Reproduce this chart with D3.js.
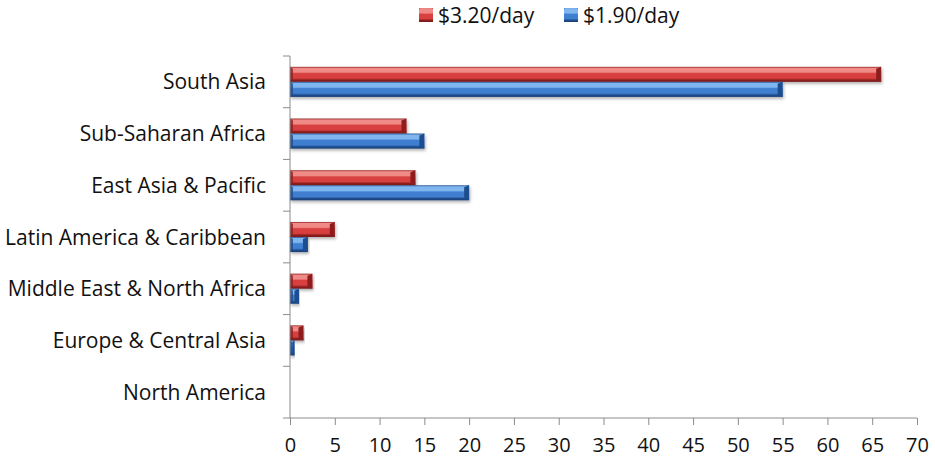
<!DOCTYPE html>
<html>
<head>
<meta charset="utf-8">
<script src="https://cdn.jsdelivr.net/npm/d3@7"></script>
<style>
  body { margin: 0; background: #fff; }
  svg { display: block; }
  text { font-family: "Open Sans", sans-serif; fill: #111; }
</style>
</head>
<body>
<svg id="chart"></svg>
<script>
var regions = ["South Asia", "Sub-Saharan Africa", "East Asia & Pacific",
  "Latin America & Caribbean", "Middle East & North Africa",
  "Europe & Central Asia", "North America"];
var seriesNames = ["$3.20/day", "$1.90/day"];
var povertyLine320 = [66, 13, 14, 5, 2.5, 1.5, 0];
var povertyLine190 = [55, 15, 20, 2, 1, 0.5, 0];
var xTicks = [0, 5, 10, 15, 20, 25, 30, 35, 40, 45, 50, 55, 60, 65, 70];

var seriesValues = [povertyLine320, povertyLine190];
var palette = {
  "$3.20/day": { light: "#f08a86", main: "#d8413f", dark: "#8e1f1f", edge: "#7a1a1a" },
  "$1.90/day": { light: "#7fb6f0", main: "#3f7fd0", dark: "#1f4d8e", edge: "#183e73" }
};

var width = 935, height = 461;
var margin = { top: 56, right: 18, bottom: 43, left: 290 };
var fontSize = "21px";

var svg = d3.select("#chart").attr("width", width).attr("height", height);
var defs = svg.append("defs");

// bevel-like gradients per series
seriesNames.forEach(function (s, i) {
  var c = palette[s];
  var g = defs.append("linearGradient")
    .attr("id", "grad" + i)
    .attr("x1", 0).attr("y1", 0).attr("x2", 0).attr("y2", 1);
  g.append("stop").attr("offset", "0%").attr("stop-color", c.dark);
  g.append("stop").attr("offset", "10%").attr("stop-color", c.light);
  g.append("stop").attr("offset", "35%").attr("stop-color", c.light);
  g.append("stop").attr("offset", "45%").attr("stop-color", c.main);
  g.append("stop").attr("offset", "75%").attr("stop-color", c.main);
  g.append("stop").attr("offset", "88%").attr("stop-color", c.dark);
  g.append("stop").attr("offset", "100%").attr("stop-color", c.edge);
});

var shadow = defs.append("filter").attr("id", "shadow")
  .attr("x", "-5%").attr("y", "-20%").attr("width", "115%").attr("height", "160%");
shadow.append("feDropShadow")
  .attr("dx", 1).attr("dy", 2).attr("stdDeviation", 1.5)
  .attr("flood-color", "#000").attr("flood-opacity", 0.3);

var x = d3.scaleLinear().domain([0, 70]).range([margin.left, width - margin.right]);
var y = d3.scaleBand().domain(regions).range([margin.top, height - margin.bottom]);
var ySub = d3.scaleBand().domain(seriesNames).range([0, y.bandwidth()])
  .paddingInner(0).paddingOuter(0.72);

// bars
var rows = svg.append("g").selectAll("g").data(regions).join("g")
  .attr("transform", function (d) { return "translate(0," + y(d) + ")"; });

seriesNames.forEach(function (s, si) {
  var c = palette[s];
  var bh = ySub.bandwidth();
  var bars = rows.filter(function (d, i) { return seriesValues[si][i] > 0; })
    .append("g")
    .attr("filter", "url(#shadow)");

  bars.append("rect")
    .attr("x", x(0))
    .attr("y", ySub(s))
    .attr("height", bh)
    .attr("width", function (d) { return x(seriesValues[si][regions.indexOf(d)]) - x(0); })
    .attr("fill", "url(#grad" + si + ")");

  // right end bevel
  bars.append("path")
    .attr("fill", c.dark)
    .attr("d", function (d) {
      var xe = x(seriesValues[si][regions.indexOf(d)]);
      var w = xe - x(0);
      var b = Math.min(5, w / 2);
      var y0 = ySub(s), y1 = y0 + bh;
      return "M" + xe + "," + y0 + "L" + xe + "," + y1 +
        "L" + (xe - b) + "," + (y1 - 2) + "L" + (xe - b) + "," + (y0 + 2) + "Z";
    });
  // left end bevel
  bars.append("path")
    .attr("fill", c.dark)
    .attr("opacity", 0.8)
    .attr("d", function (d) {
      var xs = x(0);
      var w = x(seriesValues[si][regions.indexOf(d)]) - xs;
      var b = Math.min(3, w / 2);
      var y0 = ySub(s), y1 = y0 + bh;
      return "M" + xs + "," + y0 + "L" + (xs + b) + "," + (y0 + 2) +
        "L" + (xs + b) + "," + (y1 - 2) + "L" + xs + "," + y1 + "Z";
    });
});

// y axis
var axisColor = "#8c8c8c";
var yAxis = svg.append("g");
yAxis.append("line")
  .attr("x1", x(0)).attr("x2", x(0))
  .attr("y1", y.range()[0]).attr("y2", y.range()[1])
  .attr("stroke", axisColor);
var boundaries = regions.map(function (d) { return y(d); }).concat([y.range()[1]]);
yAxis.selectAll(".btick").data(boundaries).join("line")
  .attr("x1", x(0) - 7).attr("x2", x(0))
  .attr("y1", function (d) { return d; }).attr("y2", function (d) { return d; })
  .attr("stroke", axisColor);
yAxis.selectAll(".lbl").data(regions).join("text")
  .attr("x", x(0) - 24)
  .attr("y", function (d) { return y(d) + y.bandwidth() / 2; })
  .attr("dy", "0.36em")
  .attr("text-anchor", "end")
  .style("font-size", fontSize)
  .text(function (d) { return d; });

// x axis
var xAxis = svg.append("g")
  .attr("transform", "translate(0," + y.range()[1] + ")")
  .call(d3.axisBottom(x).tickValues(xTicks).tickSize(7).tickPadding(13)
    .tickFormat(d3.format("d")));
xAxis.select(".domain").attr("stroke", axisColor).attr("d",
  "M" + x(0) + ",0H" + x(70));
xAxis.selectAll(".tick line").attr("stroke", axisColor);
xAxis.selectAll(".tick text")
  .style("font-size", "20px")
  .style("font-family", "'Open Sans', sans-serif")
  .attr("fill", "#111");

// legend
var legendX = [419, 564];
var legend = svg.append("g").selectAll("g").data(seriesNames).join("g")
  .attr("transform", function (d, i) { return "translate(" + legendX[i] + ",8)"; });
legend.append("rect")
  .attr("width", 14).attr("height", 14)
  .attr("fill", function (d, i) { return "url(#grad" + i + ")"; });
legend.append("path")
  .attr("d", "M0,0L14,0L7,6Z")
  .attr("fill", function (d) { return palette[d].light; })
  .attr("opacity", 0.9);
legend.append("text")
  .attr("x", 19).attr("y", 7).attr("dy", "0.36em")
  .style("font-size", fontSize)
  .text(function (d) { return d; });
</script>
</body>
</html>
